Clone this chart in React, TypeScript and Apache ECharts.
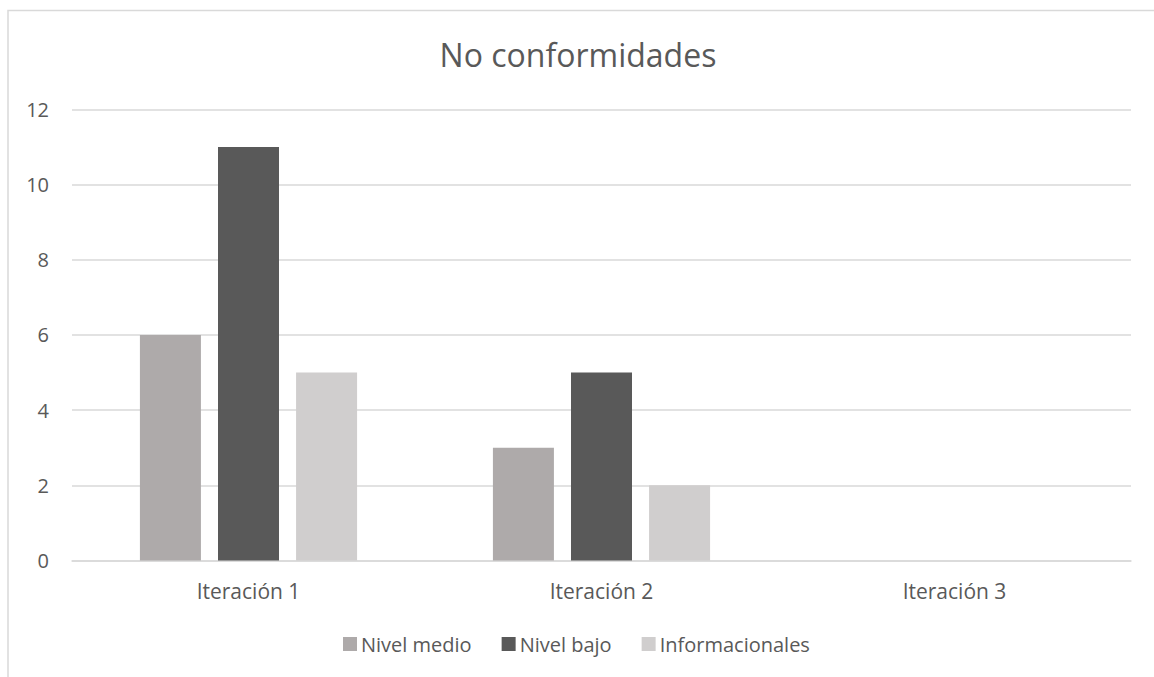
import React, { useEffect, useRef } from "react";
import * as echarts from "echarts";

// Categories and series values
const categories = ["Iteración 1", "Iteración 2", "Iteración 3"];
const nivelMedio = [6, 3, 0];
const nivelBajo = [11, 5, 0];
const informacionales = [5, 2, 0];
const yTicks = { min: 0, max: 12, interval: 2 };

const FONT = "'Open Sans', sans-serif";
const TEXT = "#595959";
const GRID = "#d9d9d9";

export default function App() {
  const ref = useRef<HTMLDivElement>(null);

  useEffect(() => {
    if (!ref.current) return;
    const chart = echarts.init(ref.current, undefined, { renderer: "svg" });
    chart.setOption({
      animation: false,
      backgroundColor: "#ffffff",
      textStyle: { fontFamily: FONT },
      title: {
        text: "No conformidades",
        left: 573,
        top: 33,
        textAlign: "center",
        textStyle: { fontFamily: FONT, fontSize: 32, fontWeight: "normal", color: TEXT },
      },
      graphic: [
        {
          type: "rect",
          shape: { x: 8, y: 10.5, width: 1300, height: 900 },
          style: { fill: "none", stroke: GRID, lineWidth: 1.5 },
          silent: true,
        },
      ],
      legend: {
        left: 338,
        top: 629,
        itemWidth: 14,
        itemHeight: 14,
        itemGap: 30,
        icon: "rect",
        textStyle: { fontFamily: FONT, fontSize: 20, color: TEXT, padding: [0, 0, 0, -1] },
        data: ["Nivel medio", "Nivel bajo", "Informacionales"],
      },
      grid: { left: 72, right: 23, top: 109.3, bottom: 116.5, containLabel: false },
      xAxis: {
        type: "category",
        data: categories,
        axisLine: { show: true, lineStyle: { color: GRID, width: 1.5 } },
        axisTick: { show: false },
        axisLabel: { fontFamily: FONT, fontSize: 21, color: TEXT, margin: 20 },
      },
      yAxis: {
        type: "value",
        min: yTicks.min,
        max: yTicks.max,
        interval: yTicks.interval,
        axisLine: { show: false },
        axisTick: { show: false },
        splitLine: { lineStyle: { color: GRID, width: 1.5 } },
        axisLabel: { fontFamily: FONT, fontSize: 20, color: TEXT, margin: 23 },
      },
      series: [
        {
          name: "Nivel medio",
          type: "bar",
          data: nivelMedio,
          barWidth: 61,
          barGap: "28%",
          itemStyle: { color: "#aeaaaa" },
        },
        {
          name: "Nivel bajo",
          type: "bar",
          data: nivelBajo,
          barWidth: 61,
          barGap: "28%",
          itemStyle: { color: "#595959" },
        },
        {
          name: "Informacionales",
          type: "bar",
          data: informacionales,
          barWidth: 61,
          barGap: "28%",
          itemStyle: { color: "#d0cece" },
        },
      ],
    });
    return () => chart.dispose();
  }, []);

  return (
    <div
      ref={ref}
      style={{ position: "absolute", left: 0, top: 0, width: 1154, height: 677 }}
    />
  );
}
